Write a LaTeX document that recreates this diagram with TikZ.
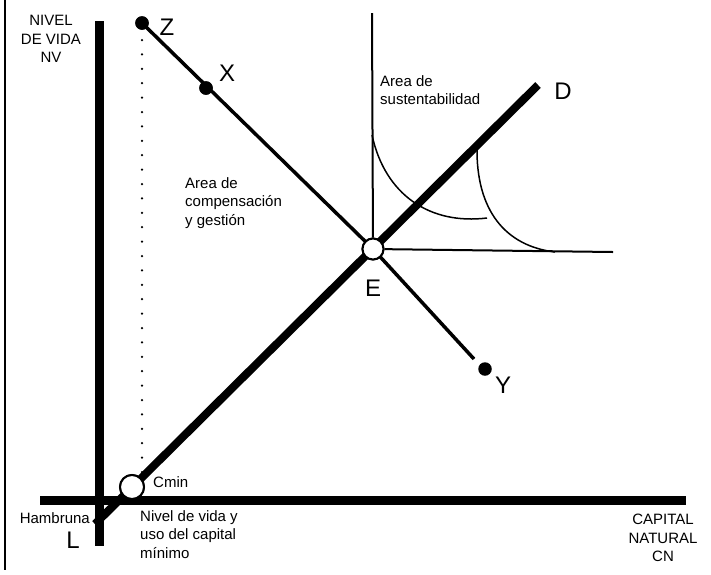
\documentclass[tikz,border=0pt]{standalone}
\usepackage{fontspec}
\setmainfont{Liberation Sans}
\begin{document}
\begin{tikzpicture}[x=1pt,y=-1pt,
  axisline/.style={line width=9pt},
  dline/.style={line width=8pt},
  zyline/.style={line width=3.5pt},
  thinline/.style={line width=2pt},
  curveline/.style={line width=1.5pt},
  blackdot/.style={circle, fill=black, minimum size=13.5pt, inner sep=0pt},
  opencirc/.style={circle, draw=black, line width=2pt, fill=white, inner sep=0pt},
  smalltext/.style={font=\fontsize{15}{18.5}\selectfont, inner sep=0pt},
  bigtext/.style={font=\fontsize{24}{28}\selectfont, inner sep=0pt}]
\useasboundingbox (0,0) rectangle (711,574);

% coordinates
\coordinate (frameT) at (5,0);
\coordinate (frameB) at (5,570);
\coordinate (vaxT) at (99,21);
\coordinate (vaxB) at (99,546);
\coordinate (haxL) at (40,500);
\coordinate (haxR) at (686,500);
\coordinate (L) at (95,524);
\coordinate (Dend) at (538,85);
\coordinate (Yend) at (474,359);
\coordinate (vtop) at (372,13);
\coordinate (hright) at (613,252);
\coordinate (dotT) at (142,40);
\coordinate (dotB) at (142,472);
\coordinate (c1s) at (372,135);
\coordinate (c1e) at (487,218);
\coordinate (c2s) at (477,147);
\coordinate (c2e) at (555,252);

% nodes (positions)
\node[opencirc, minimum size=24pt] (Cmin) at (132,487) {};
\node[opencirc, minimum size=21pt] (E) at (373,249) {};
\node[blackdot] (Z) at (142,23) {};
\node[blackdot] (X) at (206,88) {};
\node[blackdot] (Y) at (485,369) {};

% frame line
\draw[line width=1.5pt] (frameT) -- (frameB);

% axes
\draw[axisline] (vaxT) -- (vaxB);
\draw[axisline] (haxL) -- (haxR);

% thin lines of sustainability area
\draw[thinline] (vtop) -- (E);
\draw[thinline] (E) -- (hright);
\draw[curveline] (c1s) .. controls (385,195) and (430,225) .. (c1e);
\draw[curveline] (c2s) .. controls (476,210) and (505,246) .. (c2e);

% dotted line
\draw[line width=2.5pt, line cap=round, dash pattern=on 0pt off 14.4pt] (dotT) -- (dotB);

% line D
\draw[dline] (L) -- (Dend);

% line Z - Y
\draw[zyline] (Z.center) -- (E.center) -- (Yend);

% redraw circles and dots on top
\node[opencirc, minimum size=24pt] at (Cmin) {};
\node[opencirc, minimum size=21pt] at (E) {};
\node[blackdot] at (Z) {};
\node[blackdot] at (X) {};

% labels
\node[bigtext] (lZ) at (167,27) {Z};
\node[bigtext] (lX) at (227,73) {X};
\node[bigtext] (lD) at (563,91) {D};
\node[bigtext] (lE) at (373,288) {E};
\node[bigtext] (lY) at (503,385) {Y};
\node[bigtext] (lL) at (73,540) {L};

\node[smalltext, align=center, anchor=north] (nv) at (51,15) {NIVEL\\DE VIDA\\NV};
\node[smalltext, align=left, anchor=north west] (sust) at (380,75) {Area de\\sustentabilidad};
\node[smalltext, align=left, anchor=north west] (comp) at (185,177) {Area de\\compensación\\y gestión};
\node[smalltext, anchor=west] (cmint) at (153,482) {Cmin};
\node[smalltext, anchor=east] (hamb) at (90,518) {Hambruna};
\node[smalltext, align=left, anchor=north west] (nivmin) at (140,510) {Nivel de vida y\\uso del capital\\mínimo};
\node[smalltext, align=center, anchor=north] (cn) at (663,514) {CAPITAL\\NATURAL\\CN};
\end{tikzpicture}
\end{document}
